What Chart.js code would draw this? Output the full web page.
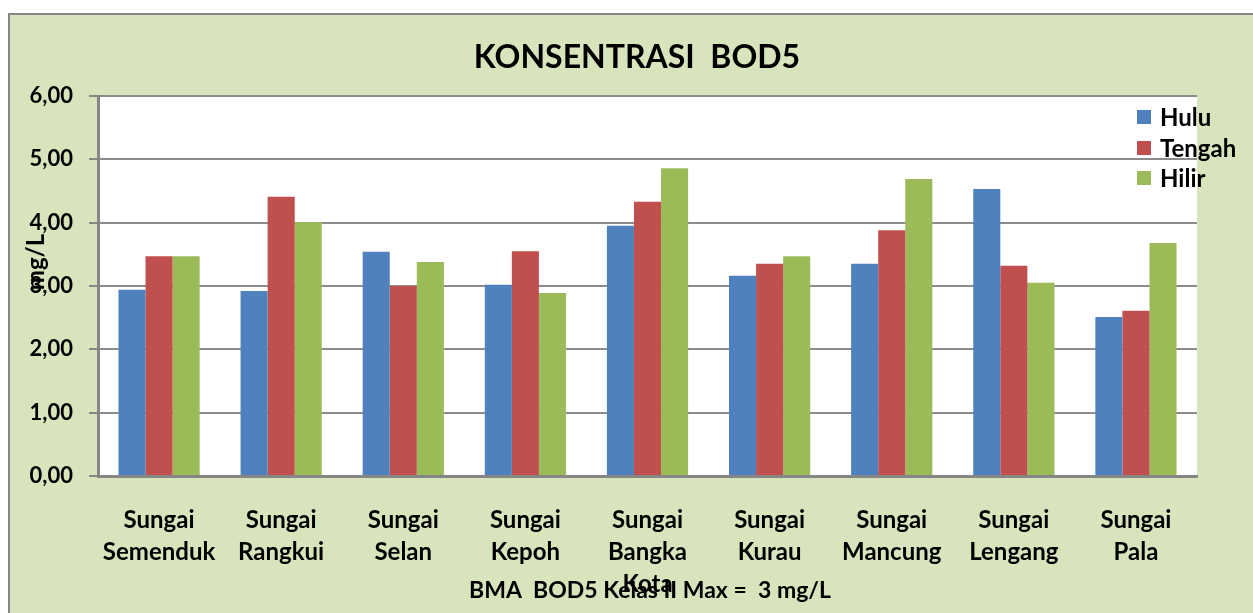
<!DOCTYPE html>
<html><head><meta charset="utf-8">
<script src="https://cdn.jsdelivr.net/npm/chart.js@4/dist/chart.umd.min.js"></script>
<style>html,body{margin:0;padding:0;background:#fff;}#wrap{width:1253px;height:613px;position:relative;}</style>
</head><body><div id="wrap"><canvas id="c" width="1253" height="613"></canvas></div>
<script>
const categories = [['Sungai','Semenduk'],['Sungai','Rangkui'],['Sungai','Selan'],['Sungai','Kepoh'],['Sungai','Bangka','Kota'],['Sungai','Kurau'],['Sungai','Mancung'],['Sungai','Lengang'],['Sungai','Pala']];
const hulu   = [2.94, 2.92, 3.54, 3.02, 3.95, 3.16, 3.35, 4.53, 2.51];
const tengah = [3.47, 4.41, 3.00, 3.55, 4.33, 3.35, 3.88, 3.32, 2.61];
const hilir  = [3.47, 4.01, 3.38, 2.89, 4.86, 3.47, 4.69, 3.05, 3.68];
const seriesNames = ['Hulu','Tengah','Hilir'];
const titleText = 'KONSENTRASI  BOD5';
const yTitle = 'mg/L';
const xTitle = 'BMA  BOD5 Kelas II Max =  3 mg/L';

const FONT = 'Lato, "Open Sans", sans-serif';
const colors = ['#4F81BD','#C0504D','#9BBB59'];

const decor = {
  id:'decor',
  beforeDraw(chart){
    const ctx = chart.ctx, a = chart.chartArea;
    ctx.save();
    ctx.fillStyle = '#D8E4BC';
    ctx.fillRect(9,14,1260,620);
    ctx.strokeStyle = '#868686'; ctx.lineWidth = 2;
    ctx.strokeRect(9,14,1260,620);
    ctx.fillStyle = '#fff';
    ctx.fillRect(a.left,a.top,a.right-a.left,a.bottom-a.top);
    ctx.restore();
  },
  afterDraw(chart){
    const ctx = chart.ctx;
    ctx.save();
    ctx.fillStyle = '#000';
    ctx.textAlign = 'center'; ctx.textBaseline = 'middle';
    ctx.font = 'bold 32px ' + FONT;
    ctx.fillText(titleText, 637, 58);
    ctx.font = 'bold 23px ' + FONT;
    ctx.fillText(xTitle, 650, 591);
    ctx.save();
    ctx.translate(36, 262); ctx.rotate(-Math.PI/2);
    ctx.font = 'bold 24px ' + FONT;
    ctx.fillText(yTitle, 0, 0);
    ctx.restore();
    // legend
    ctx.textAlign = 'left';
    ctx.font = 'bold 24px ' + FONT;
    const ys = [117,148,178];
    chart.data.datasets.forEach((d,i)=>{
      ctx.fillStyle = d.backgroundColor;
      ctx.fillRect(1137, ys[i]-7, 14, 14);
      ctx.fillStyle = '#000';
      ctx.fillText(d.label, 1160, ys[i]+1);
    });
    ctx.restore();
  }
};

new Chart(document.getElementById('c'), {
  type:'bar',
  data:{
    labels: categories,
    datasets:[
      {label:seriesNames[0], data:hulu, backgroundColor:colors[0]},
      {label:seriesNames[1], data:tengah, backgroundColor:colors[1]},
      {label:seriesNames[2], data:hilir, backgroundColor:colors[2]}
    ]
  },
  options:{
    responsive:false, animation:false,
    layout:{padding:{left:0,top:96,right:56,bottom:0}},
    datasets:{bar:{barPercentage:1, categoryPercentage:0.665}},
    plugins:{legend:{display:false}, title:{display:false}, tooltip:{enabled:false}},
    scales:{
      x:{
        grid:{display:false, drawTicks:false},
        border:{display:true, color:'#868686', width:3},
        ticks:{color:'#000', font:{family:FONT, size:24, weight:'bold', lineHeight:1.333}, padding:28, maxRotation:0, autoSkip:false},
        afterFit(s){ s.height = 137; }
      },
      y:{
        min:0, max:6,
        ticks:{stepSize:1, color:'#000', font:{family:FONT, size:22, weight:'bold'}, padding:16,
          callback:v=>v.toFixed(2).replace('.',',')},
        grid:{color:'#8c8c8c', lineWidth:2, tickLength:9, tickColor:'#868686'},
        border:{display:true, color:'#868686', width:3},
        afterFit(s){ s.width = 98; }
      }
    }
  },
  plugins:[decor]
});
</script></body></html>
